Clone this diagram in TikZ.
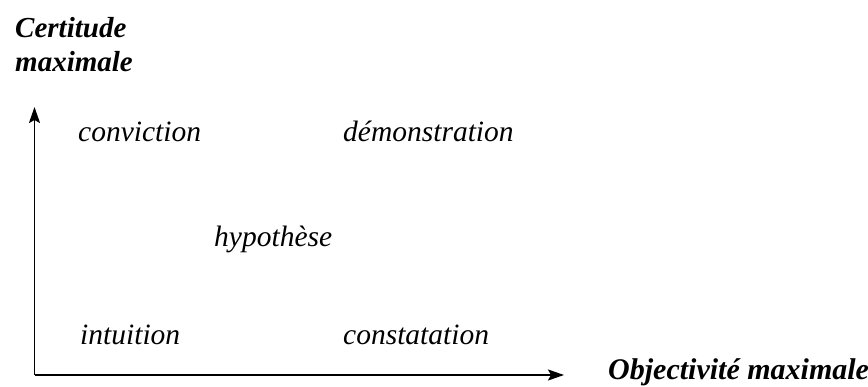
\documentclass[tikz,border=0pt]{standalone}
\usepackage{fontspec}
\setmainfont{Liberation Serif}
\usetikzlibrary{arrows.meta}
\tikzset{
  term/.style={anchor=base west, inner sep=0pt, font=\fontsize{29.5}{34}\selectfont\itshape},
  axislabel/.style={anchor=base west, inner sep=0pt, font=\fontsize{29}{34}\selectfont\bfseries\itshape},
  axis/.style={line width=1.8pt, -{Stealth[length=16pt,width=11pt,inset=3pt]}}
}
\begin{document}
\begin{tikzpicture}[x=1pt,y=-1pt]
\useasboundingbox (0,0) rectangle (868,387);
\coordinate (O) at (34.5,375);
\coordinate (ytop) at (34.5,107);
\coordinate (xend) at (564,375);
\draw[axis] (O) -- (ytop);
\draw[axis] (O) -- (xend);
\node[axislabel] (cert1) at (15,38) {Certitude};
\node[axislabel] (cert2) at (15,72) {maximale};
\node[axislabel, font=\fontsize{30}{34}\selectfont\bfseries\itshape] (obj) at (608,380) {Objectivité maximale};
\node[term] (conv) at (78,142) {conviction};
\node[term] (demo) at (343,142) {démonstration};
\node[term] (hyp) at (214,247) {hypothèse};
\node[term] (intu) at (80,345) {intuition};
\node[term] (cons) at (343,345) {constatation};
\end{tikzpicture}
\end{document}
